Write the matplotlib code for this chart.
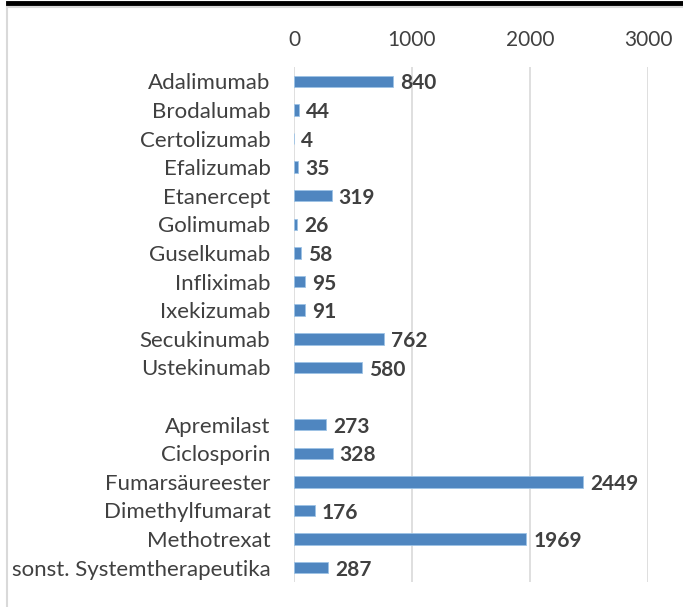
import matplotlib.pyplot as plt
from matplotlib.lines import Line2D
from matplotlib.patches import Rectangle

# Biologika / Systemtherapeutika (blank entry separates the two groups)
drugs = ['Adalimumab', 'Brodalumab', 'Certolizumab', 'Efalizumab', 'Etanercept',
         'Golimumab', 'Guselkumab', 'Infliximab', 'Ixekizumab', 'Secukinumab',
         'Ustekinumab', '', 'Apremilast', 'Ciclosporin', 'Fumarsäureester',
         'Dimethylfumarat', 'Methotrexat', 'sonst. Systemtherapeutika']
counts = [840, 44, 4, 35, 319, 26, 58, 95, 91, 762, 580, None,
          273, 328, 2449, 176, 1969, 287]
xticks = [0, 1000, 2000, 3000]

plt.rcParams['font.family'] = ['Lato', 'DejaVu Sans']
text_color = '#404040'
bar_color = '#4F86C0'

fig = plt.figure(figsize=(6.83, 6.07), dpi=100)
ax = fig.add_axes([294 / 683, 1 - 582 / 607, (648 - 294) / 683, (582 - 67) / 607])

# chart frame and black rule at the top
fig.add_artist(Rectangle((7 / 683, -0.1), 1.0, 1 - 7 / 607 + 0.1, transform=fig.transFigure,
                         fill=False, edgecolor='#D9D9D9', linewidth=1.5))
fig.add_artist(Line2D([8 / 683, 1], [1 - 3 / 607, 1 - 3 / 607], transform=fig.transFigure,
                      color='black', linewidth=3.5))

ypos = list(range(len(drugs)))
for y, v in zip(ypos, counts):
    if v is None:
        continue
    ax.barh(y, v, height=0.4, color=bar_color, edgecolor='#9DC3E6', linewidth=0.6)
    ax.annotate(str(v), xy=(v, y), xytext=(5, -1.5), textcoords='offset points',
                va='center', ha='left', fontsize=15, fontweight='bold', color=text_color)

ax.set_xlim(0, 3000)
ax.set_ylim(len(drugs) - 0.5, -0.5)
ax.set_yticks(ypos)
ax.set_yticklabels(drugs, fontsize=16, color=text_color)
ax.set_xticks(xticks)
ax.set_xticklabels([str(t) for t in xticks], fontsize=15, color=text_color)
ax.xaxis.tick_top()
ax.tick_params(axis='both', length=0)
ax.tick_params(axis='x', pad=12)
ax.tick_params(axis='y', pad=17)
ax.xaxis.grid(True, color='#D9D9D9', linewidth=1.2)
ax.set_axisbelow(True)
for s in ax.spines.values():
    s.set_visible(False)

fig.savefig('out.png', dpi=100)
